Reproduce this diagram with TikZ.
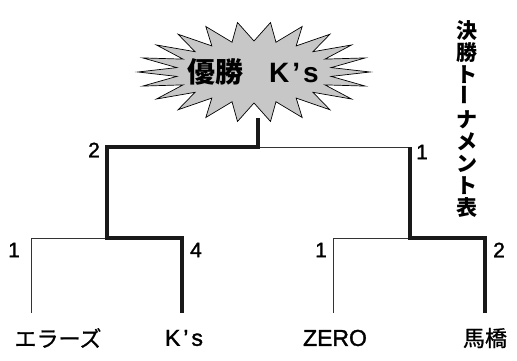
\documentclass[tikz,border=0pt]{standalone}
\usepackage{fontspec}
\setmainfont{Noto Sans CJK JP}
\newfontfamily\lat{Liberation Sans}
\newfontfamily\latm{Liberation Sans}[FakeBold=1.5]
\newfontfamily\jpm{Noto Sans CJK JP}[FakeBold=1]
\tikzset{
  thinline/.style={draw=black!80, line width=0.8pt},
  thickline/.style={draw=black!90, line width=4pt, line join=miter},
  score/.style={font=\fontsize{21}{21}\selectfont\latm, inner sep=0pt},
  team/.style={font=\fontsize{22}{22}\selectfont\jpm, inner sep=0pt},
}
\begin{document}
\begin{tikzpicture}[x=1pt,y=-1pt]
\useasboundingbox (0,0) rectangle (517,361);
% Bakuhatsu
\def\cx{254}\def\cy{72}
\fill[black!22, draw=black, line width=0.7pt] ({\cx+116},{\cy})
  \foreach \i in {1,...,43}{
    -- ({\cx+(mod(\i,2)==0 ? 116 : 78)*cos(\i*360/44)},{\cy+(mod(\i,2)==0 ? 50 : 31)*sin(\i*360/44)})
  } -- cycle;
\node[font=\fontsize{28}{28}\selectfont\bfseries, inner sep=0pt] (champ) at (253,72)
  {優勝\hspace{26pt}{\lat K\hspace{3pt}’\hspace{3pt}s}};
% Title
\node[font=\fontsize{21}{22}\selectfont\bfseries, align=center, inner sep=0pt] (title) at (467,119)
  {決\\勝\\ト\\\rotatebox{90}{ー}\\ナ\\メ\\ン\\ト\\表};
% Points
\coordinate (e0) at (31,313);  \coordinate (e1) at (31,238);
\coordinate (k0) at (182,313); \coordinate (k1) at (182,238);
\coordinate (s1) at (107,238); \coordinate (s1t) at (107,147);
\coordinate (z0) at (333,313); \coordinate (z1) at (333,238);
\coordinate (b0) at (485,313); \coordinate (b1) at (485,238);
\coordinate (s2) at (410,238); \coordinate (s2t) at (410,147);
\coordinate (f) at (258,147);  \coordinate (ft) at (258,118);
% Lines
\draw[thinline] (e0) -- (e1) -- (s1);
\draw[thinline] (z0) -- (z1) -- (s2);
\draw[thinline] (f) -- (s2t);
\draw[thickline] (k0) -- (k1) -- (s1) -- (s1t) -- (f) -- (ft);
\draw[thickline] (b0) -- (b1) -- (s2) -- (s2t);
% Scores
\node[score] (p1) at (14,250) {1};
\node[score] (p2) at (196,250) {4};
\node[score] (p3) at (321,250) {1};
\node[score] (p4) at (499,250) {2};
\node[score] (p5) at (94,150) {2};
\node[score] (p6) at (422,152) {1};
% Teams
\node[team] (t1) at (58,338) {エラーズ};
\node[team, font=\fontsize{23}{23}\selectfont\latm] (t2) at (184,338) {K\hspace{3pt}’\hspace{3pt}s};
\node[team, font=\fontsize{23}{23}\selectfont\latm] (t3) at (335,338) {ZERO};
\node[team] (t4) at (485,338) {馬橋};
\end{tikzpicture}
\end{document}
